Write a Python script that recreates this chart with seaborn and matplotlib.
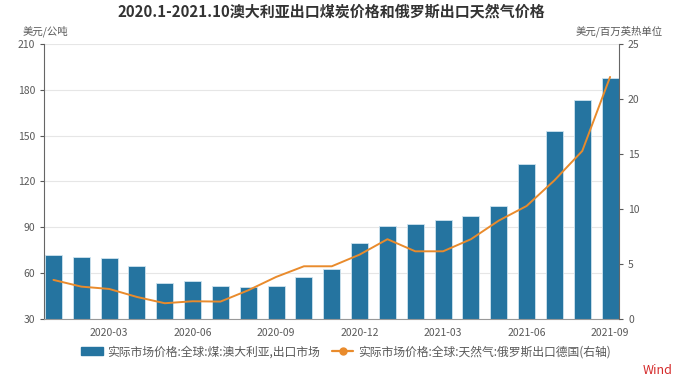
import numpy as np
import matplotlib
matplotlib.use("Agg")
import matplotlib.pyplot as plt
import seaborn as sns
from matplotlib.lines import Line2D

# ==============================
# 数据
# ==============================
months = ["2020-01", "2020-02", "2020-03", "2020-04", "2020-05", "2020-06", "2020-07",
          "2020-08", "2020-09", "2020-10", "2020-11", "2020-12", "2021-01", "2021-02",
          "2021-03", "2021-04", "2021-05", "2021-06", "2021-07", "2021-08", "2021-09"]
coal = [71.7, 70.8, 69.9, 64.5, 53.8, 54.7, 51.4, 50.9, 51.6, 57.7, 62.5,
        80.0, 90.7, 92.2, 94.8, 97.4, 103.8, 131.7, 152.8, 173.1, 188.0]
gas = [3.55, 2.94, 2.73, 2.0, 1.43, 1.61, 1.58, 2.61, 3.82, 4.79, 4.79,
       5.85, 7.25, 6.15, 6.15, 7.25, 8.94, 10.27, 12.6, 15.27, 22.0]

coal_label = "实际市场价格:全球:煤:澳大利亚,出口市场"
gas_label = "实际市场价格:全球:天然气:俄罗斯出口德国(右轴)"
title = "2020.1-2021.10澳大利亚出口煤炭价格和俄罗斯出口天然气价格"

BAR_COLOR = "#2574a0"
LINE_COLOR = "#e98b2c"
TEXT_COLOR = "#595959"

# ==============================
# 绘图
# ==============================
sns.set_style("white")
plt.rcParams['font.family'] = ['Noto Sans CJK SC', 'DejaVu Sans']

fig = plt.figure(figsize=(6.92, 3.82), dpi=100)
ax = fig.add_axes([0.0636, 0.165, 0.8309, 0.72])

x = np.arange(len(months))
sns.barplot(x=x, y=coal, color=BAR_COLOR, saturation=1, width=0.61,
            edgecolor="#cfe3ef", linewidth=0.6, ax=ax, zorder=2)

ax2 = ax.twinx()
sns.lineplot(x=x, y=gas, color=LINE_COLOR, linewidth=1.4, ax=ax2, legend=False)

ax.set_xlim(-0.34, 20.32)
ax.set_ylim(30, 210)
ax.set_yticks(range(30, 211, 30))
ax2.set_ylim(0, 25)
ax2.set_yticks(range(0, 26, 5))

tick_idx = list(range(2, len(months), 3))
ax.set_xticks(tick_idx)
ax.set_xticklabels([months[i] for i in tick_idx])

ax.yaxis.grid(True, color="#e6e6e6", linewidth=0.8, zorder=0)
ax.set_axisbelow(True)

for a in (ax, ax2):
    a.spines['top'].set_visible(False)
    a.tick_params(labelsize=7.5, colors=TEXT_COLOR, length=3, width=0.8)
    a.set_xlabel("")
ax.spines['left'].set_color("#666666")
ax.spines['bottom'].set_color("#999999")
ax2.spines['right'].set_color("#666666")
ax2.spines['left'].set_visible(False)
ax2.spines['bottom'].set_visible(False)
ax.spines['right'].set_visible(False)

# 标题与单位
fig.text(0.479, 0.969, title, ha='center', va='center', fontsize=10.8,
         fontweight='bold', color="#333333")
fig.text(0.032, 0.918, "美元/公吨", ha='left', va='center', fontsize=7.5, color=TEXT_COLOR)
fig.text(0.957, 0.918, "美元/百万英热单位", ha='right', va='center', fontsize=7.5, color=TEXT_COLOR)

# 图例
handles = [plt.Rectangle((0, 0), 1, 1, color=BAR_COLOR),
           Line2D([0], [0], color=LINE_COLOR, linewidth=1.6, marker='o', markersize=5)]
fig.legend(handles, [coal_label, gas_label], loc='center', bbox_to_anchor=(0.5, 0.079),
           ncol=2, frameon=False, fontsize=8.5, handlelength=1.8, handletextpad=0.4,
           columnspacing=1.0, labelcolor=TEXT_COLOR)

fig.text(0.972, 0.031, "Wind", ha='right', va='center', fontsize=9, color="#d52b2b")

fig.savefig("out.png", dpi=100)
